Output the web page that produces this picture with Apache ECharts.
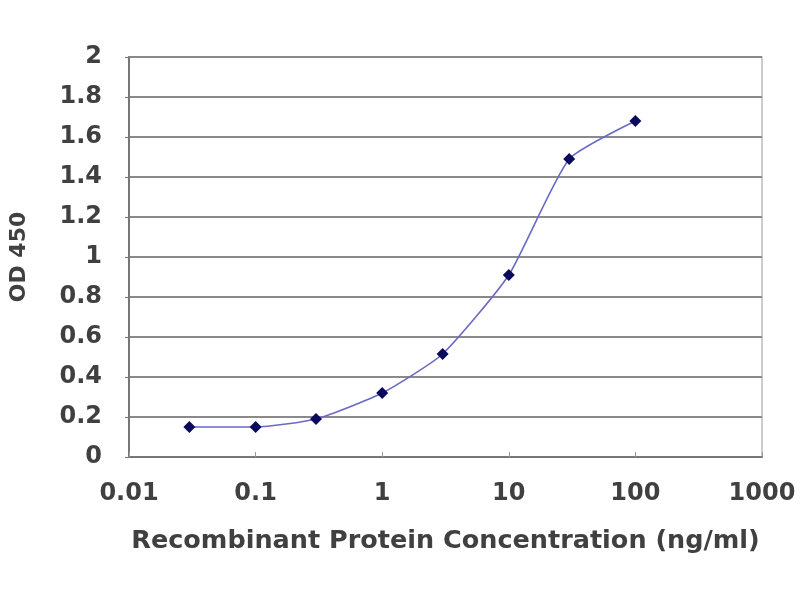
<!DOCTYPE html>
<html>
<head>
<meta charset="utf-8">
<script src="https://cdn.jsdelivr.net/npm/echarts@6/dist/echarts.min.js"></script>
<style>html,body{margin:0;padding:0;background:#fff}#c{width:800px;height:600px}</style>
</head>
<body>
<div id="c"></div>
<script>
var concentrations = [0.03, 0.1, 0.3, 1, 3, 10, 30, 100];
var odValues = [0.15, 0.15, 0.19, 0.32, 0.515, 0.91, 1.49, 1.68];
var xTickLabels = ['0.01', '0.1', '1', '10', '100', '1000'];
var yTickLabels = ['0', '0.2', '0.4', '0.6', '0.8', '1', '1.2', '1.4', '1.6', '1.8', '2'];

var chart = echarts.init(document.getElementById('c'));
var font = '"DejaVu Sans", Verdana, sans-serif';
chart.setOption({
  animation: false,
  grid: { left: 127, right: 38, top: 57, bottom: 143, show: true, borderColor: '#bdbdbd', borderWidth: 1.5 },
  xAxis: {
    type: 'log', logBase: 10, min: 0.01, max: 1000,
    name: 'Recombinant Protein Concentration (ng/ml)',
    nameLocation: 'middle', nameGap: 71,
    nameTextStyle: { fontFamily: font, fontSize: 25.5, color: '#404040', fontWeight: 'bold' },
    axisLine: { lineStyle: { color: '#777', width: 2 } },
    axisTick: { show: true, inside: true, length: 5, lineStyle: { color: '#999' } },
    splitLine: { show: false },
    minorTick: { show: false },
    axisLabel: {
      margin: 25, fontFamily: font, fontSize: 24, color: '#404040', fontWeight: 'bold',
      formatter: function (v) {
        var i = Math.round(Math.log10(v) + 2);
        return xTickLabels[i] !== undefined ? xTickLabels[i] : '';
      }
    }
  },
  yAxis: {
    type: 'value', min: 0, max: 2, interval: 0.2,
    name: 'OD 450', nameLocation: 'middle', nameGap: 99, nameRotate: 90,
    nameTextStyle: { fontFamily: font, fontSize: 22, color: '#404040', fontWeight: 'bold' },
    axisLine: { show: true, lineStyle: { color: '#777', width: 2 } },
    axisTick: { show: true, length: 4, lineStyle: { color: '#777' } },
    splitLine: { show: true, lineStyle: { color: '#8a8a8a', width: 2 } },
    axisLabel: {
      margin: 27, fontFamily: font, fontSize: 24, color: '#404040', fontWeight: 'bold',
      formatter: function (v) {
        var i = Math.round(v / 0.2);
        return yTickLabels[i] !== undefined ? yTickLabels[i] : '';
      }
    }
  },
  series: [{
    type: 'line',
    data: concentrations.map(function (c, i) { return [c, odValues[i]]; }),
    smooth: 0.18,
    symbol: 'diamond', symbolSize: 12,
    itemStyle: { color: '#0a0a5c' },
    lineStyle: { color: '#6a6ac4', width: 1.6 }
  }]
});
</script>
</body>
</html>
